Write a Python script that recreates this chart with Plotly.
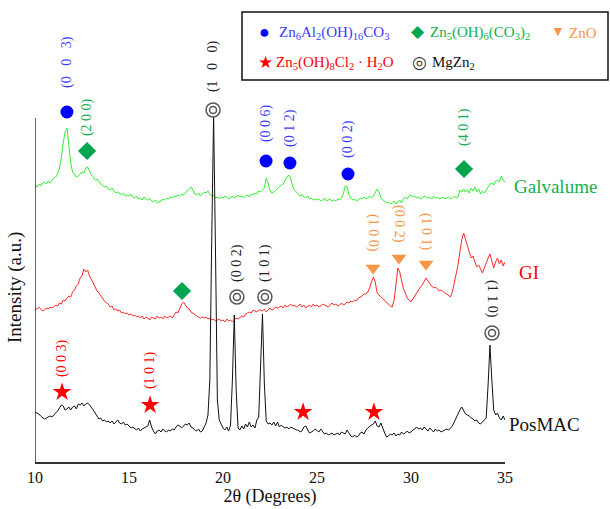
import numpy as np
import plotly.graph_objects as go

# ---------------- data ----------------
two_theta = np.round(np.arange(10.0, 35.0001, 0.1), 1)

posmac = [
    50, 49, 48, 46, 44, 43, 44, 45, 46, 45,
    47, 48, 51, 54, 57, 56, 52, 53, 55, 52,
    55, 56, 53, 58, 57, 59, 56, 58, 59, 57,
    55, 52, 49, 46, 43, 44, 41, 42, 40, 41,
    39, 41, 38, 40, 42, 39, 38, 40, 37, 38,
    36, 34, 35, 33, 32, 34, 31, 33, 34, 35,
    36, 42, 35, 31, 28, 31, 32, 30, 33, 31,
    30, 32, 31, 33, 32, 35, 37, 36, 34, 36,
    38, 37, 39, 35, 34, 32, 31, 33, 30, 31,
    35, 39, 47, 82, 222, 347, 212, 62, 42, 38,
    34, 32, 35, 31, 37, 82, 147, 72, 34, 32,
    36, 33, 38, 35, 40, 35, 37, 34, 42, 45,
    100, 148, 78, 41, 38, 39, 37, 40, 36, 40,
    35, 37, 35, 34, 35, 33, 35, 34, 33, 32,
    32, 30, 31, 35, 36, 32, 29, 30, 31, 33,
    31, 30, 33, 31, 28, 29, 27, 28, 29, 27,
    28, 29, 27, 30, 29, 28, 32, 29, 26, 25,
    27, 25, 26, 29, 30, 28, 32, 34, 36, 37,
    38, 41, 36, 35, 39, 33, 29, 25, 26, 28,
    27, 29, 26, 28, 27, 30, 28, 29, 31, 29,
    30, 32, 33, 35, 33, 34, 32, 35, 33, 31,
    34, 32, 30, 33, 31, 32, 30, 31, 32, 33,
    32, 34, 36, 40, 44, 49, 52, 55, 52, 48,
    47, 46, 44, 43, 41, 42, 39, 38, 40, 42,
    44, 77, 117, 82, 52, 47, 49, 44, 42, 46,
    42,
]

gi = [
    152, 153, 155, 153, 151, 152, 154, 153, 155, 154,
    155, 157, 156, 159, 158, 162, 161, 164, 166, 165,
    170, 172, 176, 178, 184, 186, 193, 190, 192, 186,
    183, 179, 175, 171, 169, 166, 164, 161, 159, 158,
    155, 156, 152, 153, 151, 152, 149, 150, 148, 149,
    147, 148, 146, 147, 145, 146, 144, 146, 143, 145,
    144, 142, 145, 144, 143, 146, 144, 145, 143, 146,
    144, 145, 146, 144, 147, 150, 149, 153, 158, 160,
    157, 154, 153, 150, 149, 147, 146, 145, 144, 145,
    144, 145, 143, 144, 142, 143, 141, 142, 143, 141,
    142, 140, 143, 141, 142, 140, 142, 144, 143, 145,
    146, 145, 148, 149, 150, 149, 152, 151, 150, 152,
    152, 151, 153, 150, 152, 154, 152, 153, 155, 154,
    155, 156, 154, 157, 155, 156, 158, 156, 157, 155,
    156, 158, 155, 157, 154, 156, 157, 155, 158, 156,
    157, 155, 156, 158, 157, 156, 155, 157, 159, 157,
    158, 156, 157, 159, 157, 158, 160, 159, 161, 160,
    162, 161, 164, 165, 166, 168, 168, 170, 174, 180,
    185, 180, 169, 167, 165, 163, 162, 160, 158, 156,
    155, 162, 177, 194, 190, 180, 173, 169, 164, 162,
    160, 163, 166, 170, 172, 175, 177, 180, 184, 181,
    178, 176, 174, 175, 173, 171, 172, 170, 169, 168,
    166, 165, 170, 178, 188, 197, 210, 222, 229, 222,
    215, 210, 204, 206, 200, 195, 197, 192, 189, 194,
    200, 204, 208, 200, 194, 200, 204, 198, 202, 196,
    200,
]

galvalume = [
    277, 275, 278, 276, 279, 280, 278, 281, 279, 282,
    284, 285, 288, 294, 304, 319, 330, 334, 317, 299,
    290, 287, 285, 286, 288, 290, 289, 294, 295, 290,
    287, 285, 282, 283, 280, 278, 277, 275, 276, 273,
    272, 274, 271, 269, 270, 268, 267, 269, 266, 267,
    266, 268, 265, 264, 266, 263, 264, 262, 265, 263,
    262, 263, 261, 260, 262, 259, 260, 261, 263, 262,
    264, 263, 265, 264, 266, 265, 267, 266, 268, 267,
    269, 271, 273, 275, 272, 268, 267, 269, 266, 268,
    270, 269, 271, 268, 266, 267, 264, 265, 263, 265,
    264, 266, 265, 263, 265, 266, 264, 265, 267, 265,
    266, 264, 266, 267, 265, 268, 267, 269, 268, 271,
    270, 272, 274, 284, 279, 271, 269, 270, 272, 274,
    275, 277, 278, 282, 285, 287, 284, 276, 272, 270,
    268, 266, 267, 265, 264, 266, 263, 264, 262, 263,
    262, 263, 261, 262, 264, 261, 262, 263, 261, 262,
    261, 263, 262, 264, 268, 276, 275, 267, 264, 262,
    263, 261, 262, 264, 263, 265, 263, 264, 266, 264,
    266, 269, 273, 270, 264, 262, 261, 259, 260, 258,
    259, 261, 258, 260, 262, 259, 263, 265, 263, 266,
    267, 265, 266, 264, 265, 263, 264, 266, 265, 264,
    265, 263, 266, 264, 265, 263, 264, 265, 263, 264,
    265, 263, 264, 266, 264, 265, 272, 270, 273, 270,
    272, 269, 274, 271, 275, 270, 273, 268, 271, 269,
    272, 275, 278, 279, 277, 281, 282, 280, 286, 282,
    280,
]

# phase markers (2theta, height)
ldh_x = [11.70, 22.29, 23.56, 26.65]
ldh_y = [350, 301, 299, 288]
ldh_lbl = ["(0\u00a0\u00a0\u00a00\u00a0\u00a0\u00a03)", "(0 0 6)", "(0 1 2)", "(0 0 2)"]
ldh_lbl_y = [400, 339, 334, 323]

hz_x = [12.77, 32.82, 17.82]
hz_y = [311, 293, 171]
hz_lbl = ["(2 0 0)", "(4 0 1)"]
hz_lbl_y = [345, 335]

zno_x = [27.98, 29.36, 30.80]
zno_y = [194, 204, 198]
zno_lbl = ["(1 0 0)", "(0 0 2)", "(1 0 1)"]
zno_lbl_y = [229, 238, 230]

zhc_x = [11.44, 16.12, 24.26, 28.03]
zhc_y = [70, 57, 50, 50]
zhc_lbl = ["(0 0 3)", "(1 0 1)"]
zhc_lbl_y = [104, 92]

mg_x = [19.47, 20.74, 22.23, 34.31]
mg_y = [352, 165, 165, 129]
mg_lbl = ["(1\u00a0\u00a0\u00a00\u00a0\u00a0\u00a00)", "(0 0 2)", "(1 0 1)", "(1 1 0)"]
mg_lbl_y = [396, 199, 199, 163]

series_names = ["Galvalume", "GI", "PosMAC"]

# ---------------- style ----------------
FONT = "Liberation Serif, Times New Roman, serif"
BLUE = "#0000FF"
BLUE_T = "#3B3BFF"
GREEN_M = "#00A550"
GREEN_T = "#12B050"
ORANGE = "#F79646"
RED = "#FF0000"
GRAY = "#555555"

W, H = 610, 509
L, R, T, B = 35, 105, 0, 47
PW, PH = W - L - R, H - T - B
YMAX = PH


def px2paper(px, py):
    return (px - L) / PW, (H - B - py) / PH


fig = go.Figure()

fig.add_trace(go.Scatter(x=two_theta, y=galvalume, mode="lines",
                         line=dict(color="#33EE33", width=1)))
fig.add_trace(go.Scatter(x=two_theta, y=gi, mode="lines",
                         line=dict(color="#FF2A2A", width=1)))
fig.add_trace(go.Scatter(x=two_theta, y=posmac, mode="lines",
                         line=dict(color="#111111", width=1)))

fig.add_trace(go.Scatter(x=ldh_x, y=ldh_y, mode="markers", cliponaxis=False,
                         marker=dict(symbol="circle", size=13, color=BLUE)))
fig.add_trace(go.Scatter(x=hz_x, y=hz_y, mode="markers", cliponaxis=False,
                         marker=dict(symbol="diamond", size=14, color=GREEN_M)))
fig.add_trace(go.Scatter(x=zno_x, y=zno_y, mode="markers", cliponaxis=False,
                         marker=dict(symbol="triangle-down", size=13, color=ORANGE)))
fig.add_trace(go.Scatter(x=zhc_x, y=zhc_y, mode="markers", cliponaxis=False,
                         marker=dict(symbol="star", size=14, color=RED)))
fig.add_trace(go.Scatter(x=mg_x, y=mg_y, mode="markers", cliponaxis=False,
                         marker=dict(symbol="circle", size=14, color="white",
                                     line=dict(color=GRAY, width=1.5))))
fig.add_trace(go.Scatter(x=mg_x, y=mg_y, mode="markers", cliponaxis=False,
                         marker=dict(symbol="circle-open", size=7, color=GRAY,
                                     line=dict(color=GRAY, width=1.5))))

ann = []


def lbl(x, y, text, color, angle):
    ann.append(dict(x=x, y=y, xref="x", yref="y", text=text, showarrow=False,
                    textangle=angle, font=dict(family=FONT, size=14, color=color)))


for i, t in enumerate(ldh_lbl):
    lbl(ldh_x[i], ldh_lbl_y[i], t, BLUE_T, -90)
for i, t in enumerate(hz_lbl):
    lbl(hz_x[i], hz_lbl_y[i], t, GREEN_T, -90)
for i, t in enumerate(zno_lbl):
    lbl(zno_x[i], zno_lbl_y[i], t, ORANGE, 90)
for i, t in enumerate(zhc_lbl):
    lbl(zhc_x[i], zhc_lbl_y[i], t, RED, -90)
for i, t in enumerate(mg_lbl):
    lbl(mg_x[i], mg_lbl_y[i], t, "#222222", 90 if i == 3 else -90)


def pann(px, py, text, color, size, anchor="left", angle=0):
    x, y = px2paper(px, py)
    ann.append(dict(x=x, y=y, xref="paper", yref="paper", text=text,
                    showarrow=False, xanchor=anchor, yanchor="middle",
                    textangle=angle,
                    font=dict(family=FONT, size=size, color=color)))


# series names
pann(512, 186, series_names[0], GREEN_T, 19)
pann(517, 273, series_names[1], RED, 19)
pann(507, 424, series_names[2], "#111111", 19)

# axis title (y)
pann(15, 288, "Intensity (a.u.)", "#111111", 19, anchor="center", angle=-90)

# legend box content
pann(257, 32, "\u25CF", BLUE, 18)
pann(277, 33, "Zn<sub>6</sub>Al<sub>2</sub>(OH)<sub>16</sub>CO<sub>3</sub>", BLUE_T, 15)
pann(409, 32, "\u25C6", GREEN_M, 17)
pann(428, 33, "Zn<sub>5</sub>(OH)<sub>6</sub>(CO<sub>3</sub>)<sub>2</sub>", GREEN_T, 15)
pann(549, 32, "\u25BC", ORANGE, 14)
pann(567, 33, "ZnO", ORANGE, 15)
pann(256, 62, "\u2605", RED, 17)
pann(274, 63, "Zn<sub>5</sub>(OH)<sub>8</sub>Cl<sub>2</sub> \u00b7 H<sub>2</sub>O", RED, 15)
pann(410, 62, "\u25CE", "#333333", 17)
pann(430, 63, "MgZn<sub>2</sub>", "#111111", 15)

x0, y0 = px2paper(242, 12)
x1, y1 = px2paper(608, 80)
shapes = [
    dict(type="rect", xref="paper", yref="paper", x0=x0, y0=y1, x1=x1, y1=y0,
         line=dict(color="#111111", width=1.5), fillcolor="rgba(0,0,0,0)"),
    dict(type="line", xref="x", yref="y", x0=10, x1=10, y0=0, y1=344,
         line=dict(color="#333333", width=1.5)),
]

fig.update_layout(
    width=W, height=H,
    margin=dict(l=L, r=R, t=T, b=B),
    plot_bgcolor="white", paper_bgcolor="white",
    showlegend=False,
    annotations=ann, shapes=shapes,
    font=dict(family=FONT, color="#111111"),
    xaxis=dict(range=[10, 35], tickvals=[10, 15, 20, 25, 30, 35],
               showgrid=False, zeroline=False, showline=True,
               linecolor="#333333", linewidth=1.5, ticks="",
               tickfont=dict(family=FONT, size=16, color="#111111"),
               title=dict(text="2\u03b8 (Degrees)", standoff=4,
                          font=dict(family=FONT, size=18, color="#111111"))),
    yaxis=dict(range=[0, YMAX], visible=False, showgrid=False, zeroline=False),
)

fig.write_html(
    "out.html",
    config={"displayModeBar": False},
    post_script="document.body.style.margin='0';document.body.style.overflow='hidden';",
)
